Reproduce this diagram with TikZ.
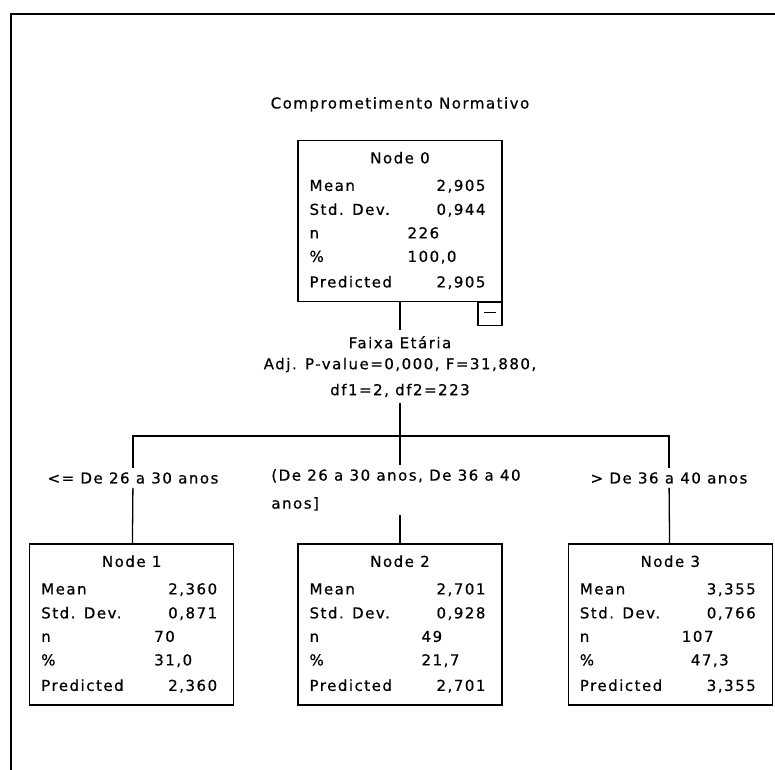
\documentclass[tikz,border=0pt]{standalone}
\usepackage{fontspec}
\newfontfamily\spssfont[LetterSpace=10,FakeBold=0.6]{DejaVu Sans}
\usetikzlibrary{positioning,calc}

\begin{document}
\begin{tikzpicture}[x=1pt,y=-1pt,node distance=63pt,
  txt/.style={font=\spssfont\fontsize{15}{17}\selectfont,inner sep=0pt,text height=11pt,text depth=0pt},
  cond/.style={font=\spssfont\fontsize{15}{17}\selectfont,inner xsep=0pt,inner ysep=4pt},
  box/.style={draw,line width=1.3pt,minimum width=204pt,minimum height=161pt,inner sep=0pt},
  edge/.style={line width=1.3pt}]
\clip (0,0) rectangle (775,769);
\draw[line width=2.5pt] (11,780) -- (11,14) -- (780,14);

% title and root
\node[txt] (target) at (400,103) {Comprometimento Normativo};
\node[box] (n0) at (400,221) {};
\node[draw,line width=1.3pt,minimum width=24pt,minimum height=23pt,inner sep=0pt,anchor=north east] (fold) at (n0.south east) {\rule[3pt]{12pt}{1.2pt}};
\node[cond,align=center,anchor=north,inner ysep=6pt] (split) at (400,330)
  {Faixa Etária\\[4pt]Adj. P-value=0,000, F=31,880,\\[9pt]df1=2, df2=223};
\coordinate (bus) at (400,436);

% children
\node[box] (n2) at (400,624.5) {};
\node[box,left=63pt of n2] (n1) {};
\node[box,right=65pt of n2] (n3) {};
\node[cond] (c1) at (133,478) {<= De 26 a 30 anos};
\node[cond,align=left,anchor=north] (c2) at (396,465) {(De 26 a 30 anos, De 36 a 40\\[11pt]anos]};
\node[cond] (c3) at (669,478) {> De 36 a 40 anos};

% connectors
\draw[edge] (n0) -- (split);
\draw[edge] (split) -- (bus);
\draw[edge] (c1.north) |- (bus) -| (c3.north);
\draw[edge] (bus) -- (bus |- c2.north);
\draw[edge] (c1) -- (n1);
\draw[edge] (c2.south -| n2.north) -- (n2);
\draw[edge] (c3) -- (n3);

% node statistics
\foreach \nd/\nm/\mn/\sd/\nn/\pc/\pr/\dx/\dy in
  {n0/0/{2,905}/{0,944}/226/{100,0}/{2,905}/110/110,
   n1/1/{2,360}/{0,871}/70/{31,0}/{2,360}/125/125,
   n2/2/{2,701}/{0,928}/49/{21,7}/{2,701}/124/124,
   n3/3/{3,355}/{0,766}/107/{47,3}/{3,355}/114/123}{
  \node[txt] (\nd-head) at ($(\nd.north)+(0,18)$) {Node \nm};
  \node[txt,anchor=west] (\nd-ml) at ($(\nd.north west)+(12,45.5)$) {Mean};
  \node[txt,anchor=east] (\nd-mv) at ($(\nd.north east)+(-17,45.5)$) {\mn};
  \node[txt,anchor=west] (\nd-sl) at ($(\nd.north west)+(12,69.5)$) {Std. Dev.};
  \node[txt,anchor=east] (\nd-sv) at ($(\nd.north east)+(-17,69.5)$) {\sd};
  \node[txt,anchor=west] (\nd-nl) at ($(\nd.north west)+(12,93)$) {n};
  \node[txt,anchor=west] (\nd-nv) at ($(\nd.north west)+(\dx,93)$) {\nn};
  \node[txt,anchor=west] (\nd-pl) at ($(\nd.north west)+(12,116.5)$) {\%};
  \node[txt,anchor=west] (\nd-pv) at ($(\nd.north west)+(\dy,116.5)$) {\pc};
  \node[txt,anchor=west] (\nd-rl) at ($(\nd.north west)+(12,142)$) {Predicted};
  \node[txt,anchor=east] (\nd-rv) at ($(\nd.north east)+(-17,142)$) {\pr};
}
\end{tikzpicture}
\end{document}
